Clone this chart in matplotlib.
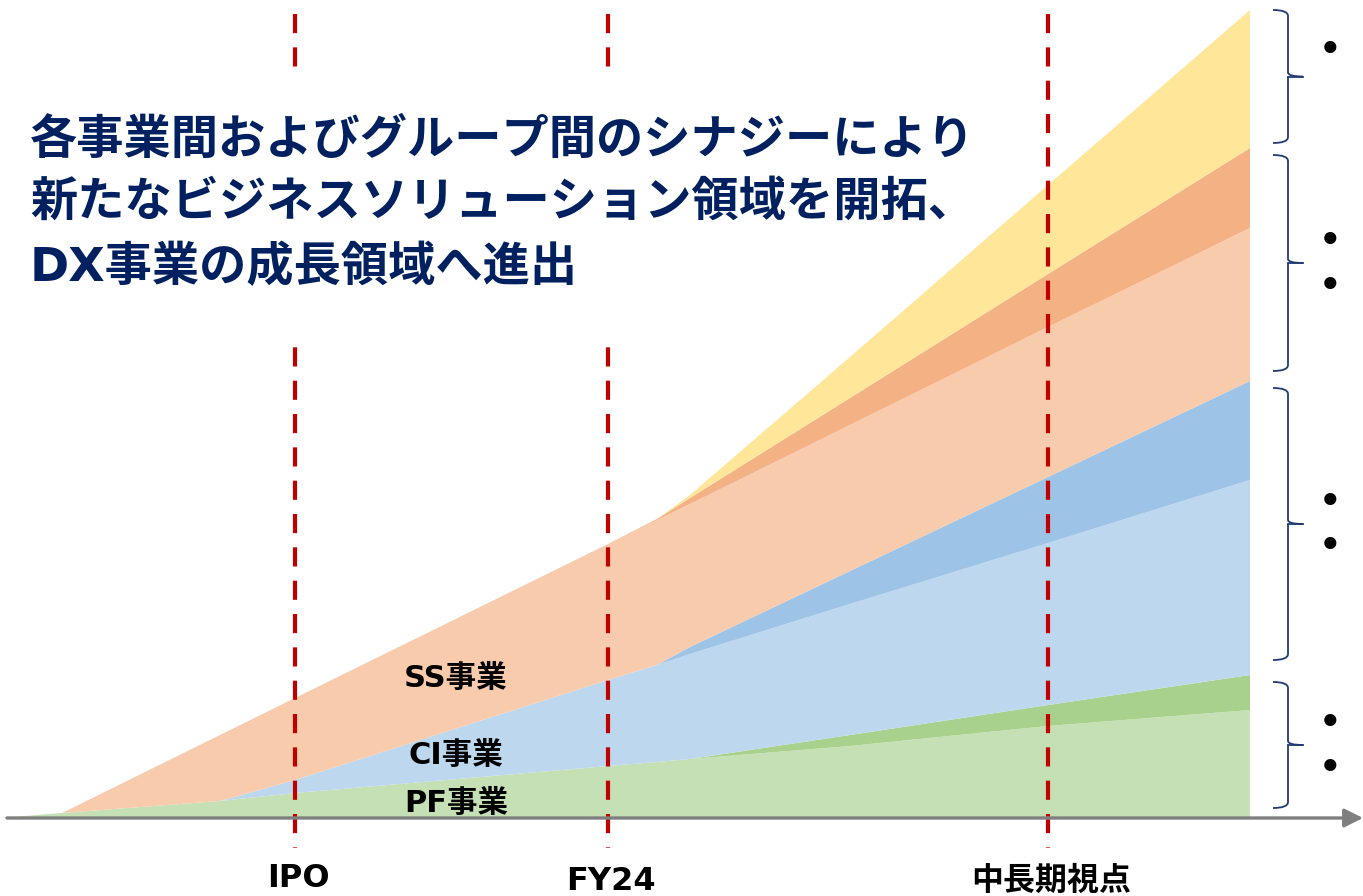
import matplotlib
matplotlib.use("Agg")
import matplotlib.pyplot as plt
import numpy as np
from matplotlib.patches import Rectangle
from matplotlib.path import Path
from matplotlib.patches import PathPatch

plt.rcParams['font.family'] = ['Noto Sans CJK JP', 'DejaVu Sans']
LATIN_FIRST = ['DejaVu Sans', 'Noto Sans CJK JP']

# ---- data ----
timeline = [0, 62, 220, 295, 608, 657, 690, 850, 1048, 1250]
pf_base = [0, 5, 17, 25, 52, 56, 59, 72, 92, 108]
pf_new = [0, 0, 0, 0, 0, 0, 0, 11, 21, 35]
ci_base = [0, 0, 0, 13, 86, 97, 105, 131, 162, 195]
ci_new = [0, 0, 0, 0, 0, 0, 7, 33, 66, 99]
ss_base = [0, 0, 66, 82, 136, 145, 143, 146, 150, 153]
ss_new = [0, 0, 0, 0, 0, 1, 6, 27, 53, 80]
new_biz = [0, 0, 0, 0, 0, 0, 3, 41, 89, 138]

layer_colors = ['#C5E0B4', '#A9D18E', '#BDD7EE', '#9DC3E6', '#F8CBAD', '#F4B183', '#FFE699']

milestones = [295, 608, 1048]
milestone_labels = ['IPO', 'FY24', '中長期視点']

segment_labels = ['SS事業', 'CI事業', 'PF事業']
title_lines = ['各事業間およびグループ間のシナジーにより',
               '新たなビジネスソリューション領域を開拓、',
               'DX事業の成長領域へ進出']

# brackets: (top, bottom) in value units
brackets = [(808, 675), (663, 447), (430, 158), (136, 10)]
bullets = [767, 576, 531, 315, 271, 94, 49]

NAVY = '#002060'

fig = plt.figure(figsize=(13.63, 8.96), dpi=100)
ax = fig.add_axes([0, 0, 1, 1])
ax.set_xlim(0, 1363)
ax.set_ylim(-78, 818)
ax.axis('off')

ax.stackplot(timeline, pf_base, pf_new, ci_base, ci_new, ss_base, ss_new, new_biz,
             colors=layer_colors, linewidth=0, zorder=1)

# dashed milestone lines
for m in milestones:
    ax.plot([m, m], [804, -30], color='#C00000', lw=3.0,
            dashes=(4.6, 3.4), zorder=3, solid_capstyle='butt', dash_capstyle='butt')

# white box behind title
ax.add_patch(Rectangle((20, 482), 640, 266, facecolor='white', edgecolor='none', zorder=4))

title_y = [677, 615, 550]
for t, yy in zip(title_lines, title_y):
    ax.text(30, yy, t, fontsize=34, fontweight='bold', color=NAVY,
            ha='left', va='center', zorder=5, family=LATIN_FIRST)

# x-axis arrow
ax.annotate('', xy=(1363, 0), xytext=(7, 0),
            arrowprops=dict(arrowstyle='-|>', color='#7F7F7F', lw=2.4,
                            mutation_scale=28, shrinkA=0, shrinkB=0), zorder=6)

# segment labels
for lab, yy in zip(segment_labels, [140, 63, 15]):
    ax.text(456, yy, lab, fontsize=22, fontweight='bold', color='black',
            ha='center', va='center', zorder=5, family=LATIN_FIRST)

# milestone labels
for m, lab, yy in zip(milestones, milestone_labels, [-60, -63, -63]):
    ax.text(m + 3, yy, lab, fontsize=23, fontweight='bold', color='black',
            ha='center', va='center', zorder=5, family=LATIN_FIRST)

# curly braces
def brace(top, bot, x0=1273, x1=1288, xt=1303):
    mid = (top + bot) / 2
    verts = [(x0, top), (x1, top), (x1, top - 6),
             (x1, mid + 4), (x1, mid), (xt, mid),
             (x1, mid), (x1, mid - 4),
             (x1, bot + 6), (x1, bot), (x0, bot)]
    codes = [Path.MOVETO, Path.CURVE3, Path.CURVE3,
             Path.LINETO, Path.CURVE3, Path.CURVE3,
             Path.MOVETO, Path.CURVE3,
             Path.LINETO, Path.CURVE3, Path.CURVE3]
    ax.add_patch(PathPatch(Path(verts, codes), facecolor='none',
                           edgecolor='#1F3B73', lw=1.3, zorder=5))
    ax.plot([x1, xt], [mid, mid], color='#1F3B73', lw=1.3, zorder=5)

for top, bot in brackets:
    brace(top, bot)

for yy in bullets:
    ax.text(1330, yy, '•', fontsize=30, color='black', ha='center', va='center',
            family='DejaVu Sans', zorder=5)

fig.savefig('out.png', dpi=100)
